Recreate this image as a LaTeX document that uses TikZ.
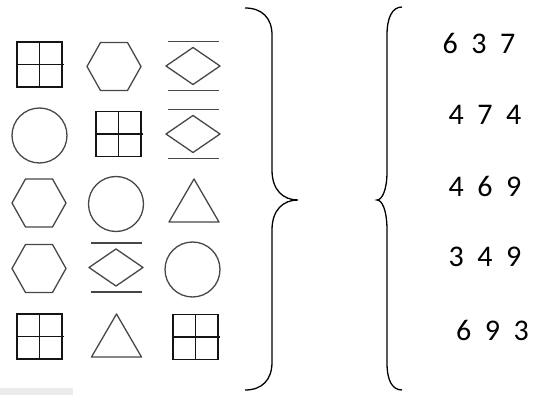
\documentclass[tikz,border=0pt]{standalone}
\usepackage{fontspec}
\setmainfont{Carlito}
\begin{document}
\begin{tikzpicture}[x=1pt,y=-1pt,
  shp/.style={draw=black!72,line width=1.3pt,line join=round},
  grd/.style={draw=black!92,line width=1.5pt},
  brc/.style={draw=black,line width=1.3pt},
  num/.style={font=\fontsize{30}{30}\selectfont,inner sep=0pt},
  gridsq/.pic={\draw[grd] (-22.5,-22.5) rectangle (22.5,22.5);
               \draw[grd] (-24,0)--(24,0) (0,-22.5)--(0,22.5);},
  hexa/.pic={\draw[shp] (27,0)--(13.5,-24)--(-13.5,-24)--(-27,0)--(-13.5,24)--(13.5,24)--cycle;},
  circ/.pic={\draw[shp] (0,0) circle[radius=27.5pt];},
  tria/.pic={\draw[shp] (0,-21.5)--(25,21.5)--(-25,21.5)--cycle;},
  diam/.pic={\draw[shp] (-27,0)--(0,-18.5)--(27,0)--(0,18.5)--cycle;
             \draw[shp] (-25.5,-24.5)--(25.5,-24.5) (-25.5,24.5)--(25.5,24.5);}
]
\useasboundingbox (0,0) rectangle (540,395);
\fill[black!8] (0,388) rectangle (73,395);

% row 1
\pic at (39.5,64.5) {gridsq};
\pic at (114,66.5) {hexa};
\pic at (193,66) {diam};
% row 2
\pic at (39.5,135.5) {circ};
\pic at (118.5,134) {gridsq};
\pic at (193,134) {diam};
% row 3
\pic at (39,203) {hexa};
\pic at (116,204) {circ};
\pic at (194,200.5) {tria};
% row 4
\pic at (39,268.5) {hexa};
\pic at (116,267.5) {diam};
\pic at (192.5,269.5) {circ};
% row 5
\pic at (39.5,336.5) {gridsq};
\pic at (116.5,335.5) {tria};
\pic at (195.5,337) {gridsq};

% braces
\draw[brc] (245,8) .. controls (262,8) and (272,18) .. (272,35) -- (272,170)
  .. controls (272,190) and (283,200) .. (298,200)
  .. controls (283,200) and (272,210) .. (272,230) -- (272,362)
  .. controls (272,380) and (262,390) .. (245,390);
\draw[brc] (402,7) .. controls (392,7) and (387,18) .. (387,35) -- (387,172)
  .. controls (387,190) and (382,200) .. (377,200)
  .. controls (382,200) and (387,210) .. (387,230) -- (387,363)
  .. controls (387,380) and (392,390) .. (402,390);

% numbers
\node[num] (r1) at (479,43) {6~~3~~7};
\node[num] (r2) at (485,115) {4~~7~~4};
\node[num] (r3) at (485,186) {4~~6~~9};
\node[num] (r4) at (485,257) {3~~4~~9};
\node[num] (r5) at (492.5,330) {6~~9~~3};
\end{tikzpicture}
\end{document}
